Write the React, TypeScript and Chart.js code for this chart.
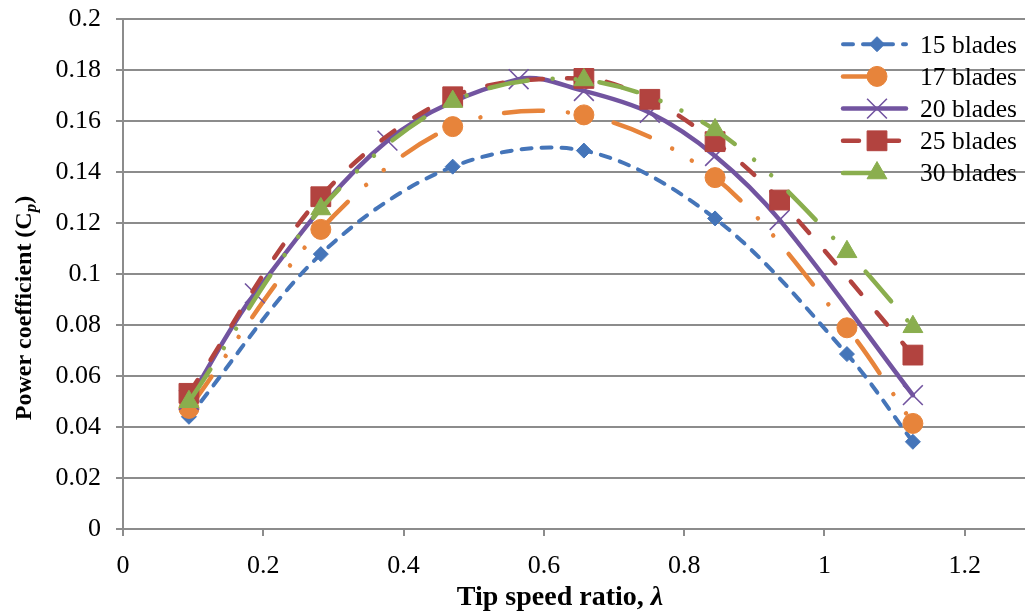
import React, { useEffect, useRef } from 'react';
import { Chart, registerables } from 'chart.js';

Chart.register(...registerables);

// ---- data ----
const seriesNames = ['15 blades', '17 blades', '20 blades', '25 blades', '30 blades'];

const tsr15 = [0.094, 0.282, 0.470, 0.657, 0.844, 1.032, 1.126];
const cp15 = [0.0440, 0.1078, 0.1421, 0.1484, 0.1218, 0.0686, 0.0342];

const tsr17 = [0.094, 0.282, 0.470, 0.657, 0.844, 1.032, 1.126];
const cp17 = [0.0473, 0.1175, 0.1578, 0.1624, 0.1378, 0.0789, 0.0414];

const tsr20 = [0.094, 0.188, 0.377, 0.564, 0.657, 0.751, 0.844, 0.936, 1.126];
const cp20 = [0.0506, 0.0924, 0.1523, 0.1764, 0.1718, 0.1632, 0.1463, 0.1212, 0.0525];

const tsr25 = [0.094, 0.282, 0.470, 0.657, 0.751, 0.844, 0.936, 1.126];
const cp25 = [0.0532, 0.1303, 0.1695, 0.1767, 0.1685, 0.1519, 0.1290, 0.0682];

const tsr30 = [0.094, 0.282, 0.470, 0.657, 0.844, 1.032, 1.126];
const cp30 = [0.0499, 0.1255, 0.1676, 0.1761, 0.1565, 0.1087, 0.0793];

const xTickLabels = ['0', '0.2', '0.4', '0.6', '0.8', '1', '1.2', '1.4'];
const yTickLabels = ['0', '0.02', '0.04', '0.06', '0.08', '0.1', '0.12', '0.14', '0.16', '0.18', '0.2'];

const xTitleMain = 'Tip speed ratio, ';
const xTitleSymbol = 'λ';
const yTitleMain = 'Power coefficient (C';
const yTitleSub = 'p';
const yTitleEnd = ')';

// ---- styles ----
const colors = ['#4575B9', '#E7843B', '#7254A0', '#B2433F', '#8AAE4E'];
const lineWidths = [4, 4.5, 4.5, 4.5, 4.5];
const dashes: number[][] = [
  [10, 10],
  [39, 25, 0.01, 23, 0.01, 24],
  [],
  [16, 24],
  [39, 25, 0.01, 23, 0.01, 24],
];
const pointStyles = ['rectRot', 'circle', 'crossRot', 'rect', 'triangle'];
const pointRadii = [7.5, 10, 14, 14, 11.5];
const pointBorderWidths = [1, 1, 1.6, 1, 1];

const FONT = '"Liberation Serif", "Times New Roman", serif';

function drawMarker(ctx: CanvasRenderingContext2D, style: string, x: number, y: number, r: number, color: string, bw: number) {
  ctx.save();
  ctx.setLineDash([]);
  ctx.fillStyle = color;
  ctx.strokeStyle = color;
  ctx.lineWidth = bw;
  ctx.beginPath();
  if (style === 'circle') {
    ctx.arc(x, y, r, 0, Math.PI * 2);
  } else if (style === 'rectRot') {
    ctx.moveTo(x - r, y);
    ctx.lineTo(x, y - r);
    ctx.lineTo(x + r, y);
    ctx.lineTo(x, y + r);
    ctx.closePath();
  } else if (style === 'rect') {
    const s = Math.SQRT1_2 * r;
    ctx.rect(x - s, y - s, 2 * s, 2 * s);
  } else if (style === 'triangle') {
    ctx.moveTo(x, y - r);
    ctx.lineTo(x + Math.sin((2 * Math.PI) / 3) * r, y + 0.5 * r);
    ctx.lineTo(x - Math.sin((2 * Math.PI) / 3) * r, y + 0.5 * r);
    ctx.closePath();
  } else if (style === 'crossRot') {
    const o = Math.SQRT1_2 * r;
    ctx.moveTo(x - o, y - o);
    ctx.lineTo(x + o, y + o);
    ctx.moveTo(x - o, y + o);
    ctx.lineTo(x + o, y - o);
    ctx.stroke();
    ctx.restore();
    return;
  }
  ctx.fill();
  ctx.stroke();
  ctx.restore();
}

const overlayPlugin = {
  id: 'overlayText',
  afterDraw(chart: any) {
    const ctx: CanvasRenderingContext2D = chart.ctx;
    const area = chart.chartArea;
    ctx.save();
    ctx.fillStyle = '#000';
    ctx.textAlign = 'left';
    ctx.textBaseline = 'alphabetic';

    // x axis title
    const fXB = `bold 28px ${FONT}`;
    const fXBI = `italic bold 28px ${FONT}`;
    ctx.font = fXB;
    const w1 = ctx.measureText(xTitleMain).width;
    ctx.font = fXBI;
    const w2 = ctx.measureText(xTitleSymbol).width;
    const cx = area.left + 437;
    const x0 = cx - (w1 + w2) / 2;
    ctx.font = fXB;
    ctx.fillText(xTitleMain, x0, area.bottom + 76);
    ctx.font = fXBI;
    ctx.fillText(xTitleSymbol, x0 + w1, area.bottom + 76);

    // y axis title (rotated)
    const fB = `bold 24px ${FONT}`;
    ctx.save();
    ctx.translate(31, 308);
    ctx.rotate(-Math.PI / 2);
    const fSub = `italic bold 17px ${FONT}`;
    ctx.font = fB;
    const a = ctx.measureText(yTitleMain).width;
    ctx.font = fSub;
    const b = ctx.measureText(yTitleSub).width;
    ctx.font = fB;
    const c = ctx.measureText(yTitleEnd).width;
    let px = -(a + b + c) / 2;
    ctx.font = fB;
    ctx.fillText(yTitleMain, px, 0);
    px += a;
    ctx.font = fSub;
    ctx.fillText(yTitleSub, px, 5);
    px += b;
    ctx.font = fB;
    ctx.fillText(yTitleEnd, px, 0);
    ctx.restore();

    // legend
    const lx0 = 843;
    const lx1 = 906;
    const mx = 877;
    const tx = 920;
    seriesNames.forEach((name, i) => {
      const ly = 44.2 + i * 32.2;
      ctx.save();
      ctx.strokeStyle = colors[i];
      ctx.lineWidth = lineWidths[i];
      ctx.lineCap = 'round';
      ctx.setLineDash(dashes[i]);
      ctx.beginPath();
      ctx.moveTo(lx0, ly);
      ctx.lineTo(lx1, ly);
      ctx.stroke();
      ctx.restore();
      drawMarker(ctx, pointStyles[i], mx, ly, pointRadii[i], colors[i], pointBorderWidths[i]);
      ctx.font = `25.5px ${FONT}`;
      ctx.fillStyle = '#000';
      ctx.fillText(name, tx, ly + 8.3);
    });
    ctx.restore();
  },
};

export default function App() {
  const ref = useRef<HTMLCanvasElement | null>(null);

  useEffect(() => {
    if (!ref.current) return;
    const xs = [tsr15, tsr17, tsr20, tsr25, tsr30];
    const ys = [cp15, cp17, cp20, cp25, cp30];
    const datasets = seriesNames.map((name, i) => ({
      label: name,
      data: xs[i].map((x, k) => ({ x, y: ys[i][k] })),
      showLine: true,
      borderColor: colors[i],
      backgroundColor: colors[i],
      borderWidth: lineWidths[i],
      borderDash: dashes[i],
      borderCapStyle: 'round',
      borderJoinStyle: 'round',
      pointStyle: pointStyles[i],
      pointRadius: pointRadii[i],
      pointHoverRadius: pointRadii[i],
      pointBackgroundColor: colors[i],
      pointBorderColor: colors[i],
      pointBorderWidth: pointBorderWidths[i],
      tension: 0.33,
      fill: false,
      clip: false,
      order: seriesNames.length - 1 - i,
    }));

    const gridColor = '#8c8c8c';
    const chart = new Chart(ref.current, {
      type: 'scatter',
      data: { datasets: datasets as any },
      options: {
        responsive: false,
        animation: false,
        devicePixelRatio: 1,
        layout: { padding: { top: 19, right: 24.9, left: 0, bottom: 0 } },
        plugins: {
          legend: { display: false },
          tooltip: { enabled: false },
        },
        scales: {
          x: {
            type: 'linear',
            min: 0,
            max: 1.4,
            ticks: {
              stepSize: 0.2,
              autoSkip: false,
              maxRotation: 0,
              padding: 15,
              color: '#000',
              font: { family: FONT, size: 26 },
              callback: (_v: any, i: number) => xTickLabels[i] ?? '',
            },
            grid: { drawOnChartArea: false, drawTicks: true, tickLength: 7, color: gridColor, lineWidth: 2 },
            border: { display: true, color: gridColor, width: 2 },
            afterFit: (s: any) => {
              s.height = 86;
              s.paddingLeft = 0;
              s.paddingRight = 0;
            },
          },
          y: {
            type: 'linear',
            min: 0,
            max: 0.2,
            ticks: {
              stepSize: 0.02,
              autoSkip: false,
              padding: 15,
              color: '#000',
              font: { family: FONT, size: 26 },
              callback: (_v: any, i: number) => yTickLabels[i] ?? '',
            },
            grid: { drawTicks: true, tickLength: 7, color: gridColor, lineWidth: 2 },
            border: { display: true, color: gridColor, width: 2 },
            afterFit: (s: any) => {
              s.width = 123;
              s.paddingTop = 0;
              s.paddingBottom = 0;
            },
          },
        },
      } as any,
      plugins: [overlayPlugin],
    });
    return () => chart.destroy();
  }, []);

  return (
    <div
      style={{
        position: 'fixed',
        left: 0,
        top: 0,
        width: 1025,
        height: 615,
        overflow: 'hidden',
        background: '#fff',
      }}
    >
      <canvas ref={ref} width={1130} height={615} style={{ width: 1130, height: 615, display: 'block' }} />
    </div>
  );
}
